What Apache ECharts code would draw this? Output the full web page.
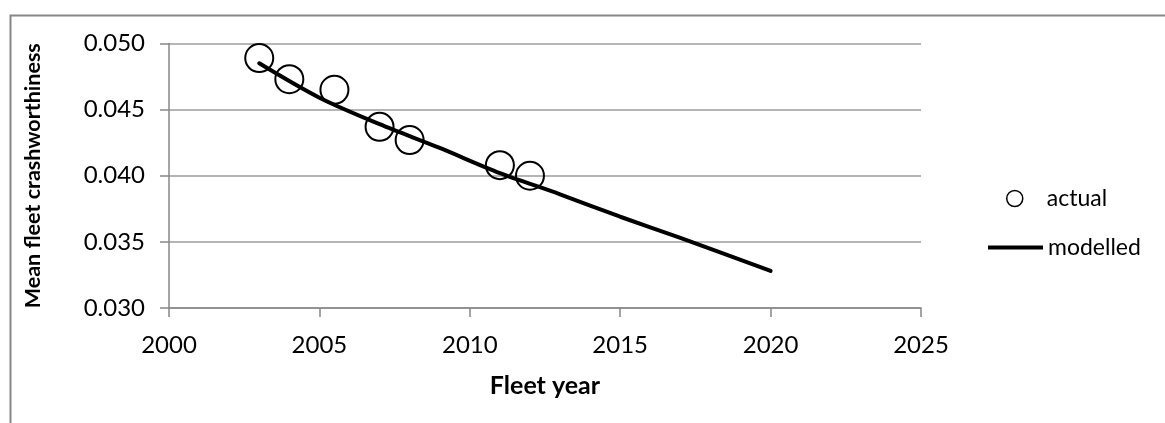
<!DOCTYPE html>
<html>
<head>
<meta charset="utf-8">
<script src="https://cdn.jsdelivr.net/npm/echarts@6/dist/echarts.min.js"></script>
<style>
html,body{margin:0;padding:0;background:#fff;}
#chart{width:1165px;height:423px;}
</style>
</head>
<body>
<div id="chart"></div>
<script>
// Data
const actualYears = [2003, 2004, 2005.5, 2007, 2008, 2011, 2012];
const actualValues = [0.0489, 0.0473, 0.0465, 0.0437, 0.0427, 0.0408, 0.0400];
const modelYears = [2003, 2005, 2007, 2009, 2011, 2013, 2015, 2017, 2020];
const modelValues = [0.0485, 0.0459, 0.0439, 0.0421, 0.0402, 0.0386, 0.0369, 0.0353, 0.0328];
const xTicks = {min: 2000, max: 2025, step: 5};
const yTicks = {min: 0.030, max: 0.050, step: 0.005};

const FONT = 'Lato, "Open Sans", sans-serif';
const chart = echarts.init(document.getElementById('chart'), null, {renderer: 'canvas'});
chart.setOption({
  animation: false,
  backgroundColor: '#fff',
  graphic: [{
    type: 'rect', left: 8, top: 13,
    shape: {x: 0, y: 0, width: 1200, height: 500},
    style: {fill: 'none', stroke: '#878787', lineWidth: 2},
    silent: true, z: -1
  }],
  grid: {left: 169, top: 43.5, right: 244, bottom: 115, containLabel: false},
  xAxis: {
    type: 'value', min: xTicks.min, max: xTicks.max, interval: xTicks.step,
    name: 'Fleet year', nameLocation: 'middle', nameGap: 65,
    nameTextStyle: {fontFamily: FONT, fontWeight: 'bold', fontSize: 25, color: '#000'},
    axisLine: {show: true, lineStyle: {color: '#878787', width: 1.5}},
    axisTick: {show: true, length: 9, lineStyle: {color: '#878787', width: 1.5}},
    axisLabel: {fontFamily: FONT, fontSize: 24, color: '#000', margin: 25,
      formatter: v => String(v)},
    splitLine: {show: false}
  },
  yAxis: {
    type: 'value', min: yTicks.min, max: yTicks.max, interval: yTicks.step,
    name: 'Mean fleet crashworthiness', nameLocation: 'middle', nameGap: 125,
    nameTextStyle: {fontFamily: FONT, fontWeight: 'bold', fontSize: 21.5, color: '#000'},
    axisLine: {show: true, lineStyle: {color: '#878787', width: 1.5}},
    axisTick: {show: true, length: 9, lineStyle: {color: '#878787', width: 1.5}},
    axisLabel: {fontFamily: FONT, fontSize: 24, color: '#000', margin: 24,
      formatter: v => v.toFixed(3)},
    splitLine: {show: true, lineStyle: {color: '#9c9c9c', width: 1.5}}
  },
  legend: [{
    orient: 'vertical', left: 1001, top: 182,
    data: [{name: 'actual', icon: 'circle'}],
    itemWidth: 54, itemHeight: 16, itemGap: 0,
    textStyle: {fontFamily: FONT, fontSize: 23, color: '#000'},
    itemStyle: {color: '#fff', borderColor: '#000', borderWidth: 1.5}
  }, {
    orient: 'vertical', left: 983, top: 231,
    data: [{name: 'modelled', icon: 'rect'}],
    itemWidth: 55, itemHeight: 4, itemGap: 0,
    textStyle: {fontFamily: FONT, fontSize: 23, color: '#000'},
    itemStyle: {color: '#000', borderWidth: 0}
  }],
  series: [{
    name: 'modelled', type: 'line',
    data: modelYears.map((y, i) => [y, modelValues[i]]),
    showSymbol: false, smooth: 0.3,
    lineStyle: {color: '#000', width: 4, cap: 'round'},
    itemStyle: {color: '#000'}, z: 2
  }, {
    name: 'actual', type: 'scatter',
    data: actualYears.map((y, i) => [y, actualValues[i]]),
    symbol: 'circle', symbolSize: 28,
    itemStyle: {color: 'rgba(0,0,0,0)', borderColor: '#000', borderWidth: 2, opacity: 1},
    z: 3
  }]
});
</script>
</body>
</html>
